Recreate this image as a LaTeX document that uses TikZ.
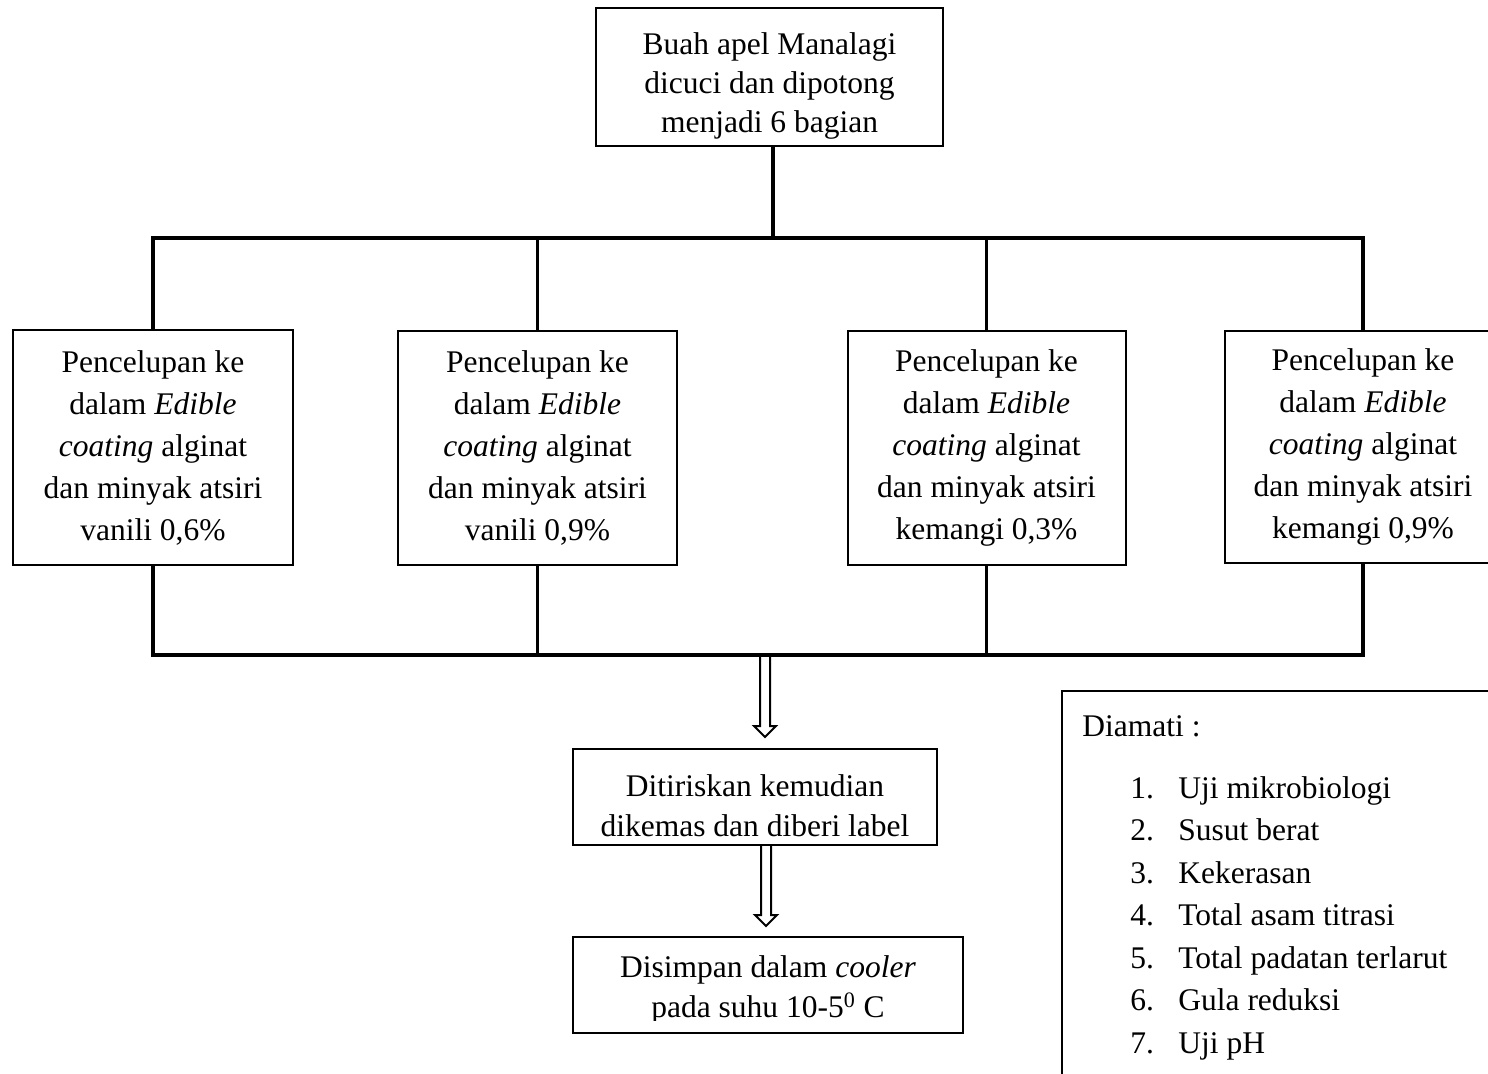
\documentclass[tikz,border=0pt]{standalone}
\usepackage{fontspec}
\setmainfont{Liberation Serif}
\usetikzlibrary{calc}
\tikzset{
  x=0.5pt, y=-0.5pt,
  box/.style={draw, line width=1pt, inner sep=0pt, align=center,
    font=\fontsize{15.75}{21}\selectfont},
  txt/.style={inner sep=0pt, align=center, font=\fontsize{15.75}{20}\selectfont},
  item/.style={anchor=base west, inner sep=0pt, font=\fontsize{15.75}{21}\selectfont},
  bus/.style={line width=1.75pt},
  arrowline/.style={line width=1pt, line join=miter},
}
\newcommand\hollowarrow[2]{%
  \draw[arrowline] ($(#1)+(-5,0)$) -- ($(#2)+(-5,-11)$) -- ($(#2)+(-11,-11)$) -- (#2)
    -- ($(#2)+(11,-11)$) -- ($(#2)+(5,-11)$) -- ($(#1)+(5,0)$);}
\begin{document}
\begin{tikzpicture}
\path[use as bounding box, clip] (0,0) rectangle (1488,1073);

% top box
\node[box, minimum width=173.5pt, minimum height=69pt] (top) at (769.5,77) {};
\node[txt, font=\fontsize{15.75}{19.5}\selectfont] (topt) at (769.5,86)
  {Buah apel Manalagi\\dicuci dan dipotong\\menjadi 6 bagian};

% four treatment boxes
\node[box, minimum width=140pt, minimum height=117.5pt] (b1) at (153,447.5)
  {Pencelupan ke\\dalam \textit{Edible}\\\textit{coating} alginat\\dan minyak atsiri\\vanili 0,6\%};
\node[box, minimum width=139.5pt, minimum height=117pt] (b2) at (537.5,448)
  {Pencelupan ke\\dalam \textit{Edible}\\\textit{coating} alginat\\dan minyak atsiri\\vanili 0,9\%};
\node[box, minimum width=139pt, minimum height=117pt] (b3) at (986.5,448)
  {Pencelupan ke\\dalam \textit{Edible}\\\textit{coating} alginat\\dan minyak atsiri\\kemangi 0,3\%};
\node[box, minimum width=138pt, minimum height=116pt] (b4) at (1363,447)
  {Pencelupan ke\\dalam \textit{Edible}\\\textit{coating} alginat\\dan minyak atsiri\\kemangi 0,9\%};

% bus lines
\coordinate (tb) at (773,238);
\coordinate (bb) at (765,655);
\draw[bus] (top.south -| tb) -- (tb);
\draw[bus] (b1.north) -- (b1.north |- tb) -- (b4.north |- tb) -- (b4.north);
\draw[bus] (b2.north) -- (b2.north |- tb);
\draw[bus] (b3.north) -- (b3.north |- tb);
\draw[bus] (b1.south) -- (b1.south |- bb) -- (b4.south |- bb) -- (b4.south);
\draw[bus] (b2.south) -- (b2.south |- bb);
\draw[bus] (b3.south) -- (b3.south |- bb);

% lower boxes
\node[box, minimum width=182pt, minimum height=48pt] (dit) at (755,797) {};
\node[txt] (ditt) at (755,806) {Ditiriskan kemudian\\dikemas dan diberi label};
\node[box, minimum width=195pt, minimum height=48pt] (dis) at (768,985) {};
\begin{scope}
  \clip (560,930) rectangle (980,1020);
  \node[txt] (dist) at (768,990)
    {Disimpan dalam \textit{cooler}\\pada suhu 10-5\textsuperscript{0} C};
\end{scope}

% hollow arrows
\coordinate (a1e) at (765,737);
\hollowarrow{bb}{a1e}
\coordinate (a2s) at (dit.south -| 766,0);
\coordinate (a2e) at (766,926);
\hollowarrow{a2s}{a2e}

% observation box
\node[box, anchor=north west, minimum width=300pt, minimum height=300pt] (obs) at (1061,690) {};
\node[item] (obsh) at (1082,736) {Diamati :};
\foreach \i/\t in {1/Uji mikrobiologi, 2/Susut berat, 3/Kekerasan, 4/Total asam titrasi,
                   5/Total padatan terlarut, 6/Gula reduksi, 7/Uji pH}
  \node[item] (obs\i) at (1130,{798+42.5*(\i-1)}) {\makebox[24pt][l]{\i.}\t};
\end{tikzpicture}
\end{document}
